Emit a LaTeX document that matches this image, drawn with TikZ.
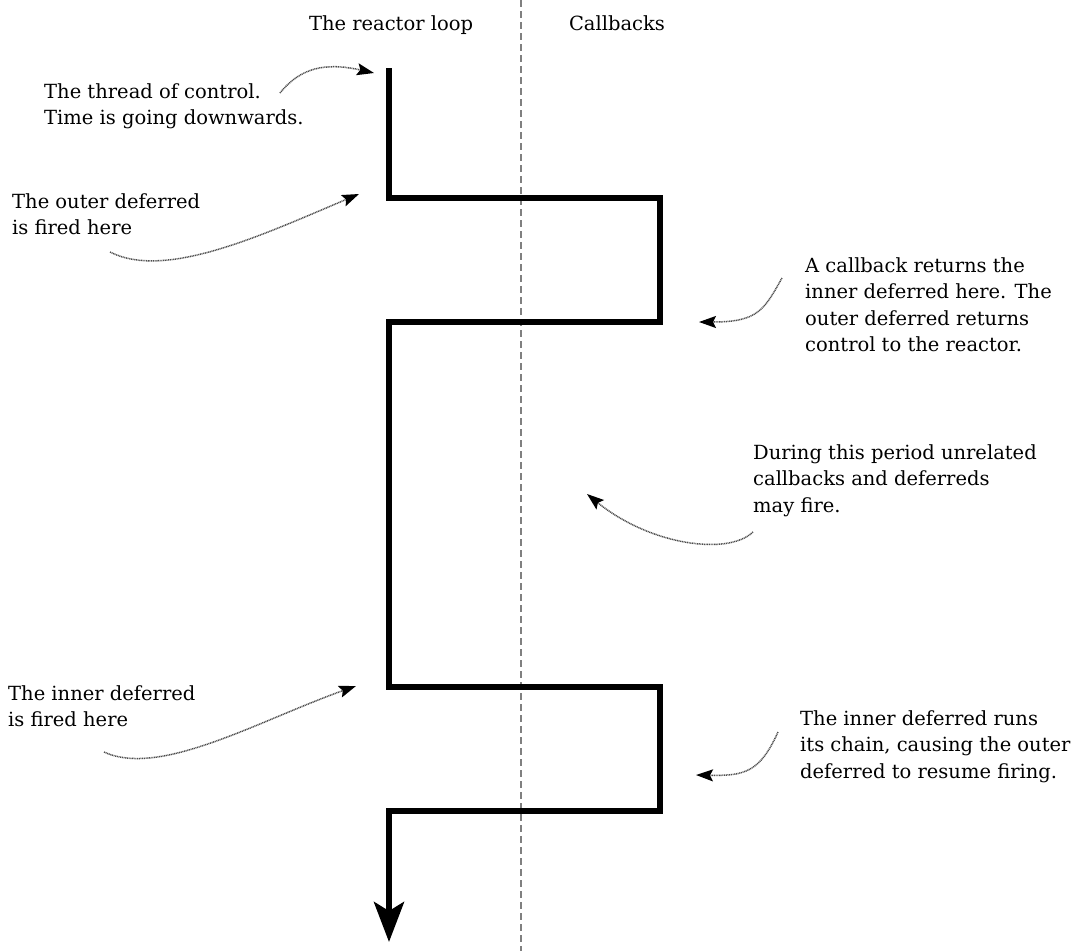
\documentclass[tikz,border=0pt]{standalone}
\usepackage{fontspec}
\setmainfont{DejaVu Serif}
\usetikzlibrary{arrows.meta}
\begin{document}
\begin{tikzpicture}[x=1pt,y=-1pt,
  lbl/.style={inner sep=0pt,anchor=north west,align=left,font=\fontsize{19.5}{26.5}\selectfont},
  head/.style={inner sep=0pt,anchor=base,font=\fontsize{19.5}{26.5}\selectfont},
  thread/.style={line width=6pt,miter limit=10,-{Stealth[length=40pt,width=30pt,inset=9pt]}},
  note/.style={line width=1.5pt,black!70,dash pattern=on 1pt off 0.7pt,-{Stealth[length=17pt,width=12pt,inset=3pt,black]}},
  divider/.style={line width=2pt,gray,dash pattern=on 7pt off 4pt}]
\useasboundingbox (0,0) rectangle (1071,951);
\fill[white] (0,0) rectangle (1071,951);

% headings
\node[head] (hloop) at (391,30) {The reactor loop};
\node[head] (hcb) at (617,30) {Callbacks};

% divider
\coordinate (dtop) at (521,0);
\coordinate (dbot) at (521,951);
\draw[divider] (dtop) -- (dbot);

% thread of control
\coordinate (t0) at (389,68);
\coordinate (t1) at (389,198);
\coordinate (t2) at (660,198);
\coordinate (t3) at (660,322);
\coordinate (t4) at (389,322);
\coordinate (t5) at (389,687);
\coordinate (t6) at (660,687);
\coordinate (t7) at (660,811);
\coordinate (t8) at (389,811);
\coordinate (t9) at (389,942);
\draw[thread] (t0) -- (t1) -- (t2) -- (t3) -- (t4) -- (t5) -- (t6) -- (t7) -- (t8) -- (t9);

% annotations
\node[lbl] (n1) at (44,83) {The thread of control.\\Time is going downwards.};
\node[lbl] (n2) at (12,193) {The outer deferred\\is fired here};
\node[lbl] (n3) at (805,257) {A callback returns the\\inner deferred here. The\\outer deferred returns\\control to the reactor.};
\node[lbl] (n4) at (753,444) {During this period unrelated\\callbacks and deferreds\\may fire.};
\node[lbl] (n5) at (8,685) {The inner deferred\\is fired here};
\node[lbl] (n6) at (800,710) {The inner deferred runs\\its chain, causing the outer\\deferred to resume firing.};

% annotation arrows
\coordinate (a1s) at (280,93);   \coordinate (a1e) at (374,73);
\coordinate (a2s) at (110,252);  \coordinate (a2e) at (359,194);
\coordinate (a3s) at (782,278);  \coordinate (a3e) at (699,322);
\coordinate (a4s) at (753,532);  \coordinate (a4e) at (587,494);
\coordinate (a5s) at (104,752);  \coordinate (a5e) at (356,686);
\coordinate (a6s) at (778,732);  \coordinate (a6e) at (696,775);

\draw[note] (a1s) .. controls (300,68) and (325,62) .. (a1e);
\draw[note] (a2s) .. controls (165,280) and (260,236) .. (a2e);
\draw[note] (a3s) .. controls (764,310) and (758,322) .. (a3e);
\draw[note] (a4s) .. controls (728,556) and (650,545) .. (a4e);
\draw[note] (a5s) .. controls (160,778) and (260,720) .. (a5e);
\draw[note] (a6s) .. controls (760,772) and (745,776) .. (a6e);
\end{tikzpicture}
\end{document}
